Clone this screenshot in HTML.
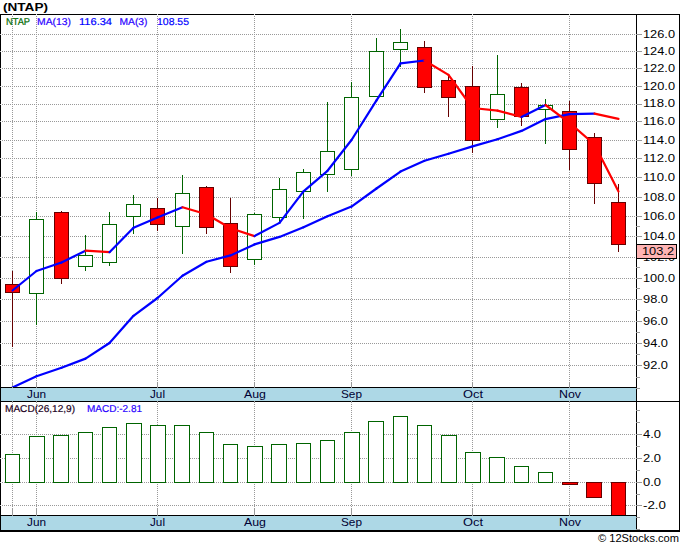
<!DOCTYPE html><html><head><meta charset="utf-8"><style>html,body{margin:0;padding:0;background:#fff;width:680px;height:546px;overflow:hidden}svg{display:block}text{font-family:"Liberation Sans",sans-serif}</style></head><body>
<svg width="680" height="546" viewBox="0 0 680 546">
<rect x="0" y="0" width="680" height="546" fill="#fff"/>
<g stroke="#999999" stroke-width="1" stroke-dasharray="1 1" shape-rendering="crispEdges">
<line x1="0" y1="34.5" x2="636" y2="34.5"/>
<line x1="0" y1="51.5" x2="636" y2="51.5"/>
<line x1="0" y1="68.5" x2="636" y2="68.5"/>
<line x1="0" y1="86.5" x2="636" y2="86.5"/>
<line x1="0" y1="104.5" x2="636" y2="104.5"/>
<line x1="0" y1="121.5" x2="636" y2="121.5"/>
<line x1="0" y1="140.5" x2="636" y2="140.5"/>
<line x1="0" y1="158.5" x2="636" y2="158.5"/>
<line x1="0" y1="177.5" x2="636" y2="177.5"/>
<line x1="0" y1="197.5" x2="636" y2="197.5"/>
<line x1="0" y1="216.5" x2="636" y2="216.5"/>
<line x1="0" y1="236.5" x2="636" y2="236.5"/>
<line x1="0" y1="257.5" x2="636" y2="257.5"/>
<line x1="0" y1="278.5" x2="636" y2="278.5"/>
<line x1="0" y1="299.5" x2="636" y2="299.5"/>
<line x1="0" y1="321.5" x2="636" y2="321.5"/>
<line x1="0" y1="343.5" x2="636" y2="343.5"/>
<line x1="0" y1="365.5" x2="636" y2="365.5"/>
<line x1="12.5" y1="14" x2="12.5" y2="382"/>
<line x1="36.5" y1="14" x2="36.5" y2="382"/>
<line x1="157.5" y1="14" x2="157.5" y2="382"/>
<line x1="254.5" y1="14" x2="254.5" y2="382"/>
<line x1="351.5" y1="14" x2="351.5" y2="382"/>
<line x1="472.5" y1="14" x2="472.5" y2="382"/>
<line x1="569.5" y1="14" x2="569.5" y2="382"/>
<line x1="0" y1="434.5" x2="636" y2="434.5"/>
<line x1="0" y1="458.5" x2="636" y2="458.5"/>
<line x1="0" y1="482.5" x2="636" y2="482.5"/>
<line x1="0" y1="505.5" x2="636" y2="505.5"/>
<line x1="12.5" y1="402" x2="12.5" y2="509"/>
<line x1="36.5" y1="402" x2="36.5" y2="509"/>
<line x1="157.5" y1="402" x2="157.5" y2="509"/>
<line x1="254.5" y1="402" x2="254.5" y2="509"/>
<line x1="351.5" y1="402" x2="351.5" y2="509"/>
<line x1="472.5" y1="402" x2="472.5" y2="509"/>
<line x1="569.5" y1="402" x2="569.5" y2="509"/>
</g>
<g stroke="#999999" stroke-width="1" shape-rendering="crispEdges">
<line x1="12.5" y1="382" x2="12.5" y2="387"/>
<line x1="12.5" y1="509" x2="12.5" y2="515"/>
<line x1="36.5" y1="382" x2="36.5" y2="387"/>
<line x1="36.5" y1="509" x2="36.5" y2="515"/>
<line x1="157.5" y1="382" x2="157.5" y2="387"/>
<line x1="157.5" y1="509" x2="157.5" y2="515"/>
<line x1="254.5" y1="382" x2="254.5" y2="387"/>
<line x1="254.5" y1="509" x2="254.5" y2="515"/>
<line x1="351.5" y1="382" x2="351.5" y2="387"/>
<line x1="351.5" y1="509" x2="351.5" y2="515"/>
<line x1="472.5" y1="382" x2="472.5" y2="387"/>
<line x1="472.5" y1="509" x2="472.5" y2="515"/>
<line x1="569.5" y1="382" x2="569.5" y2="387"/>
<line x1="569.5" y1="509" x2="569.5" y2="515"/>
</g>
<g shape-rendering="crispEdges">
<line x1="12.5" y1="271" x2="12.5" y2="347" stroke="#660000" stroke-width="1"/>
<rect x="5.5" y="284.5" width="14" height="8" fill="#ff0000" stroke="#660000" stroke-width="1"/>
<line x1="36.5" y1="212" x2="36.5" y2="325" stroke="#006400" stroke-width="1"/>
<rect x="29.5" y="219.5" width="14" height="74" fill="#ffffff" stroke="#006400" stroke-width="1"/>
<line x1="61.5" y1="211" x2="61.5" y2="284" stroke="#660000" stroke-width="1"/>
<rect x="54.5" y="212.5" width="14" height="66" fill="#ff0000" stroke="#660000" stroke-width="1"/>
<line x1="85.5" y1="235" x2="85.5" y2="271" stroke="#006400" stroke-width="1"/>
<rect x="78.5" y="255.5" width="14" height="11" fill="#ffffff" stroke="#006400" stroke-width="1"/>
<line x1="109.5" y1="212" x2="109.5" y2="266" stroke="#006400" stroke-width="1"/>
<rect x="102.5" y="224.5" width="14" height="38" fill="#ffffff" stroke="#006400" stroke-width="1"/>
<line x1="133.5" y1="195" x2="133.5" y2="234" stroke="#006400" stroke-width="1"/>
<rect x="126.5" y="204.5" width="14" height="12" fill="#ffffff" stroke="#006400" stroke-width="1"/>
<line x1="157.5" y1="198" x2="157.5" y2="231" stroke="#660000" stroke-width="1"/>
<rect x="150.5" y="208.5" width="14" height="16" fill="#ff0000" stroke="#660000" stroke-width="1"/>
<line x1="182.5" y1="175" x2="182.5" y2="254" stroke="#006400" stroke-width="1"/>
<rect x="175.5" y="193.5" width="14" height="33" fill="#ffffff" stroke="#006400" stroke-width="1"/>
<line x1="206.5" y1="186" x2="206.5" y2="234" stroke="#660000" stroke-width="1"/>
<rect x="199.5" y="187.5" width="14" height="40" fill="#ff0000" stroke="#660000" stroke-width="1"/>
<line x1="230.5" y1="198" x2="230.5" y2="273" stroke="#660000" stroke-width="1"/>
<rect x="223.5" y="223.5" width="14" height="43" fill="#ff0000" stroke="#660000" stroke-width="1"/>
<line x1="254.5" y1="213" x2="254.5" y2="265" stroke="#006400" stroke-width="1"/>
<rect x="247.5" y="214.5" width="14" height="45" fill="#ffffff" stroke="#006400" stroke-width="1"/>
<line x1="279.5" y1="178" x2="279.5" y2="223" stroke="#006400" stroke-width="1"/>
<rect x="272.5" y="189.5" width="14" height="28" fill="#ffffff" stroke="#006400" stroke-width="1"/>
<line x1="303.5" y1="169" x2="303.5" y2="219" stroke="#006400" stroke-width="1"/>
<rect x="296.5" y="172.5" width="14" height="19" fill="#ffffff" stroke="#006400" stroke-width="1"/>
<line x1="327.5" y1="102" x2="327.5" y2="192" stroke="#006400" stroke-width="1"/>
<rect x="320.5" y="151.5" width="14" height="23" fill="#ffffff" stroke="#006400" stroke-width="1"/>
<line x1="351.5" y1="82" x2="351.5" y2="176" stroke="#006400" stroke-width="1"/>
<rect x="344.5" y="97.5" width="14" height="72" fill="#ffffff" stroke="#006400" stroke-width="1"/>
<line x1="376.5" y1="38" x2="376.5" y2="97" stroke="#006400" stroke-width="1"/>
<rect x="369.5" y="51.5" width="14" height="45" fill="#ffffff" stroke="#006400" stroke-width="1"/>
<line x1="400.5" y1="29" x2="400.5" y2="67" stroke="#006400" stroke-width="1"/>
<rect x="393.5" y="42.5" width="14" height="7" fill="#ffffff" stroke="#006400" stroke-width="1"/>
<line x1="424.5" y1="41" x2="424.5" y2="93" stroke="#660000" stroke-width="1"/>
<rect x="417.5" y="47.5" width="14" height="40" fill="#ff0000" stroke="#660000" stroke-width="1"/>
<line x1="448.5" y1="75" x2="448.5" y2="117" stroke="#660000" stroke-width="1"/>
<rect x="441.5" y="80.5" width="14" height="17" fill="#ff0000" stroke="#660000" stroke-width="1"/>
<line x1="472.5" y1="66" x2="472.5" y2="153" stroke="#660000" stroke-width="1"/>
<rect x="465.5" y="86.5" width="14" height="54" fill="#ff0000" stroke="#660000" stroke-width="1"/>
<line x1="497.5" y1="55" x2="497.5" y2="128" stroke="#006400" stroke-width="1"/>
<rect x="490.5" y="94.5" width="14" height="25" fill="#ffffff" stroke="#006400" stroke-width="1"/>
<line x1="521.5" y1="83" x2="521.5" y2="126" stroke="#660000" stroke-width="1"/>
<rect x="514.5" y="87.5" width="14" height="29" fill="#ff0000" stroke="#660000" stroke-width="1"/>
<line x1="545.5" y1="99" x2="545.5" y2="144" stroke="#006400" stroke-width="1"/>
<rect x="538.5" y="105.5" width="14" height="4" fill="#ffffff" stroke="#006400" stroke-width="1"/>
<line x1="569.5" y1="101" x2="569.5" y2="170" stroke="#660000" stroke-width="1"/>
<rect x="562.5" y="111.5" width="14" height="38" fill="#ff0000" stroke="#660000" stroke-width="1"/>
<line x1="594.5" y1="133" x2="594.5" y2="204" stroke="#660000" stroke-width="1"/>
<rect x="587.5" y="137.5" width="14" height="46" fill="#ff0000" stroke="#660000" stroke-width="1"/>
<line x1="618.5" y1="184" x2="618.5" y2="252" stroke="#660000" stroke-width="1"/>
<rect x="611.5" y="202.5" width="14" height="42" fill="#ff0000" stroke="#660000" stroke-width="1"/>
</g>
<svg x="0" y="14" width="636" height="373" viewBox="0 14 636 373" overflow="hidden">
<line x1="12.5" y1="387.5" x2="36.5" y2="376.2" stroke="#0000ff" stroke-width="2.2" stroke-linecap="round"/>
<line x1="36.5" y1="376.2" x2="61.5" y2="367.8" stroke="#0000ff" stroke-width="2.2" stroke-linecap="round"/>
<line x1="61.5" y1="367.8" x2="85.5" y2="358.6" stroke="#0000ff" stroke-width="2.2" stroke-linecap="round"/>
<line x1="85.5" y1="358.6" x2="109.5" y2="343" stroke="#0000ff" stroke-width="2.2" stroke-linecap="round"/>
<line x1="109.5" y1="343" x2="133.5" y2="315.8" stroke="#0000ff" stroke-width="2.2" stroke-linecap="round"/>
<line x1="133.5" y1="315.8" x2="157.5" y2="298" stroke="#0000ff" stroke-width="2.2" stroke-linecap="round"/>
<line x1="157.5" y1="298" x2="182.5" y2="275.7" stroke="#0000ff" stroke-width="2.2" stroke-linecap="round"/>
<line x1="182.5" y1="275.7" x2="206.5" y2="261.8" stroke="#0000ff" stroke-width="2.2" stroke-linecap="round"/>
<line x1="206.5" y1="261.8" x2="230.5" y2="255.4" stroke="#0000ff" stroke-width="2.2" stroke-linecap="round"/>
<line x1="230.5" y1="255.4" x2="254.5" y2="244.4" stroke="#0000ff" stroke-width="2.2" stroke-linecap="round"/>
<line x1="254.5" y1="244.4" x2="279.5" y2="236.9" stroke="#0000ff" stroke-width="2.2" stroke-linecap="round"/>
<line x1="279.5" y1="236.9" x2="303.5" y2="227.3" stroke="#0000ff" stroke-width="2.2" stroke-linecap="round"/>
<line x1="303.5" y1="227.3" x2="327.5" y2="216.2" stroke="#0000ff" stroke-width="2.2" stroke-linecap="round"/>
<line x1="327.5" y1="216.2" x2="351.5" y2="206.6" stroke="#0000ff" stroke-width="2.2" stroke-linecap="round"/>
<line x1="351.5" y1="206.6" x2="376.5" y2="188.5" stroke="#0000ff" stroke-width="2.2" stroke-linecap="round"/>
<line x1="376.5" y1="188.5" x2="400.5" y2="171.6" stroke="#0000ff" stroke-width="2.2" stroke-linecap="round"/>
<line x1="400.5" y1="171.6" x2="424.5" y2="160.8" stroke="#0000ff" stroke-width="2.2" stroke-linecap="round"/>
<line x1="424.5" y1="160.8" x2="448.5" y2="153.8" stroke="#0000ff" stroke-width="2.2" stroke-linecap="round"/>
<line x1="448.5" y1="153.8" x2="472.5" y2="146.4" stroke="#0000ff" stroke-width="2.2" stroke-linecap="round"/>
<line x1="472.5" y1="146.4" x2="497.5" y2="139.2" stroke="#0000ff" stroke-width="2.2" stroke-linecap="round"/>
<line x1="497.5" y1="139.2" x2="521.5" y2="130.9" stroke="#0000ff" stroke-width="2.2" stroke-linecap="round"/>
<line x1="521.5" y1="130.9" x2="545.5" y2="119.1" stroke="#0000ff" stroke-width="2.2" stroke-linecap="round"/>
<line x1="545.5" y1="119.1" x2="569.5" y2="114.1" stroke="#0000ff" stroke-width="2.2" stroke-linecap="round"/>
<line x1="569.5" y1="114.1" x2="594.5" y2="113.7" stroke="#0000ff" stroke-width="2.2" stroke-linecap="round"/>
<line x1="594.5" y1="113.7" x2="618.5" y2="118.8" stroke="#ff0000" stroke-width="2.2" stroke-linecap="round"/>
<line x1="12.5" y1="290.5" x2="36.5" y2="271" stroke="#0000ff" stroke-width="2.2" stroke-linecap="round"/>
<line x1="36.5" y1="271" x2="61.5" y2="262.5" stroke="#0000ff" stroke-width="2.2" stroke-linecap="round"/>
<line x1="61.5" y1="262.5" x2="85.5" y2="250.7" stroke="#0000ff" stroke-width="2.2" stroke-linecap="round"/>
<line x1="85.5" y1="250.7" x2="109.5" y2="252.2" stroke="#ff0000" stroke-width="2.2" stroke-linecap="round"/>
<line x1="109.5" y1="252.2" x2="133.5" y2="227.7" stroke="#0000ff" stroke-width="2.2" stroke-linecap="round"/>
<line x1="133.5" y1="227.7" x2="157.5" y2="217.5" stroke="#0000ff" stroke-width="2.2" stroke-linecap="round"/>
<line x1="157.5" y1="217.5" x2="182.5" y2="207.3" stroke="#0000ff" stroke-width="2.2" stroke-linecap="round"/>
<line x1="182.5" y1="207.3" x2="206.5" y2="214.2" stroke="#ff0000" stroke-width="2.2" stroke-linecap="round"/>
<line x1="206.5" y1="214.2" x2="230.5" y2="228.2" stroke="#ff0000" stroke-width="2.2" stroke-linecap="round"/>
<line x1="230.5" y1="228.2" x2="254.5" y2="236.1" stroke="#ff0000" stroke-width="2.2" stroke-linecap="round"/>
<line x1="254.5" y1="236.1" x2="279.5" y2="222.9" stroke="#0000ff" stroke-width="2.2" stroke-linecap="round"/>
<line x1="279.5" y1="222.9" x2="303.5" y2="191.4" stroke="#0000ff" stroke-width="2.2" stroke-linecap="round"/>
<line x1="303.5" y1="191.4" x2="327.5" y2="170.8" stroke="#0000ff" stroke-width="2.2" stroke-linecap="round"/>
<line x1="327.5" y1="170.8" x2="351.5" y2="140" stroke="#0000ff" stroke-width="2.2" stroke-linecap="round"/>
<line x1="351.5" y1="140" x2="376.5" y2="100.3" stroke="#0000ff" stroke-width="2.2" stroke-linecap="round"/>
<line x1="376.5" y1="100.3" x2="400.5" y2="63.3" stroke="#0000ff" stroke-width="2.2" stroke-linecap="round"/>
<line x1="400.5" y1="63.3" x2="424.5" y2="60.5" stroke="#0000ff" stroke-width="2.2" stroke-linecap="round"/>
<line x1="424.5" y1="60.5" x2="448.5" y2="74.9" stroke="#ff0000" stroke-width="2.2" stroke-linecap="round"/>
<line x1="448.5" y1="74.9" x2="472.5" y2="108" stroke="#ff0000" stroke-width="2.2" stroke-linecap="round"/>
<line x1="472.5" y1="108" x2="497.5" y2="110.6" stroke="#ff0000" stroke-width="2.2" stroke-linecap="round"/>
<line x1="497.5" y1="110.6" x2="521.5" y2="116.9" stroke="#ff0000" stroke-width="2.2" stroke-linecap="round"/>
<line x1="521.5" y1="116.9" x2="545.5" y2="105" stroke="#0000ff" stroke-width="2.2" stroke-linecap="round"/>
<line x1="545.5" y1="105" x2="569.5" y2="122.8" stroke="#ff0000" stroke-width="2.2" stroke-linecap="round"/>
<line x1="569.5" y1="122.8" x2="594.5" y2="144.5" stroke="#ff0000" stroke-width="2.2" stroke-linecap="round"/>
<line x1="594.5" y1="144.5" x2="618.5" y2="191.5" stroke="#ff0000" stroke-width="2.2" stroke-linecap="round"/>
</svg>
<g shape-rendering="crispEdges">
<rect x="5.5" y="454.5" width="14" height="28" fill="#fff" stroke="#006400" stroke-width="1"/>
<rect x="29.5" y="436.5" width="15" height="46" fill="#fff" stroke="#006400" stroke-width="1"/>
<rect x="53.5" y="435.5" width="15" height="47" fill="#fff" stroke="#006400" stroke-width="1"/>
<rect x="78.5" y="432.5" width="14" height="50" fill="#fff" stroke="#006400" stroke-width="1"/>
<rect x="102.5" y="427.5" width="14" height="55" fill="#fff" stroke="#006400" stroke-width="1"/>
<rect x="126.5" y="423.5" width="15" height="59" fill="#fff" stroke="#006400" stroke-width="1"/>
<rect x="150.5" y="425.5" width="15" height="57" fill="#fff" stroke="#006400" stroke-width="1"/>
<rect x="174.5" y="425.5" width="15" height="57" fill="#fff" stroke="#006400" stroke-width="1"/>
<rect x="199.5" y="432.5" width="14" height="50" fill="#fff" stroke="#006400" stroke-width="1"/>
<rect x="223.5" y="444.5" width="14" height="38" fill="#fff" stroke="#006400" stroke-width="1"/>
<rect x="247.5" y="446.5" width="15" height="36" fill="#fff" stroke="#006400" stroke-width="1"/>
<rect x="271.5" y="444.5" width="15" height="38" fill="#fff" stroke="#006400" stroke-width="1"/>
<rect x="296.5" y="443.5" width="14" height="39" fill="#fff" stroke="#006400" stroke-width="1"/>
<rect x="320.5" y="440.5" width="14" height="42" fill="#fff" stroke="#006400" stroke-width="1"/>
<rect x="344.5" y="432.5" width="15" height="50" fill="#fff" stroke="#006400" stroke-width="1"/>
<rect x="368.5" y="421.5" width="15" height="61" fill="#fff" stroke="#006400" stroke-width="1"/>
<rect x="393.5" y="416.5" width="14" height="66" fill="#fff" stroke="#006400" stroke-width="1"/>
<rect x="417.5" y="425.5" width="14" height="57" fill="#fff" stroke="#006400" stroke-width="1"/>
<rect x="441.5" y="435.5" width="15" height="47" fill="#fff" stroke="#006400" stroke-width="1"/>
<rect x="465.5" y="452.5" width="15" height="30" fill="#fff" stroke="#006400" stroke-width="1"/>
<rect x="489.5" y="457.5" width="15" height="25" fill="#fff" stroke="#006400" stroke-width="1"/>
<rect x="514.5" y="466.5" width="14" height="16" fill="#fff" stroke="#006400" stroke-width="1"/>
<rect x="538.5" y="472.5" width="14" height="10" fill="#fff" stroke="#006400" stroke-width="1"/>
<rect x="562.5" y="482.5" width="15" height="2" fill="#ff0000" stroke="#660000" stroke-width="1"/>
<rect x="586.5" y="482.5" width="15" height="15" fill="#ff0000" stroke="#660000" stroke-width="1"/>
<rect x="611.5" y="482.5" width="14" height="33" fill="#ff0000" stroke="#660000" stroke-width="1"/>
</g>
<g shape-rendering="crispEdges">
<rect x="1" y="388" width="635" height="13" fill="#ADD8E6"/>
<rect x="1" y="516" width="635" height="14" fill="#ADD8E6"/>
<g stroke="#000" stroke-width="1">
<line x1="0" y1="14.5" x2="680" y2="14.5"/>
<line x1="0.5" y1="14" x2="0.5" y2="532"/>
<line x1="679.5" y1="14" x2="679.5" y2="532"/>
<line x1="636.5" y1="14" x2="636.5" y2="532"/>
<line x1="0" y1="387.5" x2="637" y2="387.5"/>
<line x1="0" y1="401.5" x2="680" y2="401.5"/>
<line x1="0" y1="515.5" x2="637" y2="515.5"/>
</g>
<rect x="0" y="530" width="680" height="2" fill="#000"/>
<rect x="12" y="14" width="1" height="1" fill="#d8d8d8"/>
<rect x="12" y="387" width="1" height="1" fill="#999999"/>
<rect x="12" y="401" width="1" height="1" fill="#999999"/>
<rect x="12" y="515" width="1" height="1" fill="#999999"/>
<rect x="36" y="14" width="1" height="1" fill="#d8d8d8"/>
<rect x="36" y="387" width="1" height="1" fill="#999999"/>
<rect x="36" y="401" width="1" height="1" fill="#999999"/>
<rect x="36" y="515" width="1" height="1" fill="#999999"/>
<rect x="157" y="14" width="1" height="1" fill="#d8d8d8"/>
<rect x="157" y="387" width="1" height="1" fill="#999999"/>
<rect x="157" y="401" width="1" height="1" fill="#999999"/>
<rect x="157" y="515" width="1" height="1" fill="#999999"/>
<rect x="254" y="14" width="1" height="1" fill="#d8d8d8"/>
<rect x="254" y="387" width="1" height="1" fill="#999999"/>
<rect x="254" y="401" width="1" height="1" fill="#999999"/>
<rect x="254" y="515" width="1" height="1" fill="#999999"/>
<rect x="351" y="14" width="1" height="1" fill="#d8d8d8"/>
<rect x="351" y="387" width="1" height="1" fill="#999999"/>
<rect x="351" y="401" width="1" height="1" fill="#999999"/>
<rect x="351" y="515" width="1" height="1" fill="#999999"/>
<rect x="472" y="14" width="1" height="1" fill="#d8d8d8"/>
<rect x="472" y="387" width="1" height="1" fill="#999999"/>
<rect x="472" y="401" width="1" height="1" fill="#999999"/>
<rect x="472" y="515" width="1" height="1" fill="#999999"/>
<rect x="569" y="14" width="1" height="1" fill="#d8d8d8"/>
<rect x="569" y="387" width="1" height="1" fill="#999999"/>
<rect x="569" y="401" width="1" height="1" fill="#999999"/>
<rect x="569" y="515" width="1" height="1" fill="#999999"/>
<rect x="0" y="34" width="1" height="1" fill="#c8c8c8"/>
<rect x="0" y="51" width="1" height="1" fill="#c8c8c8"/>
<rect x="0" y="68" width="1" height="1" fill="#c8c8c8"/>
<rect x="0" y="86" width="1" height="1" fill="#c8c8c8"/>
<rect x="0" y="104" width="1" height="1" fill="#c8c8c8"/>
<rect x="0" y="121" width="1" height="1" fill="#c8c8c8"/>
<rect x="0" y="140" width="1" height="1" fill="#c8c8c8"/>
<rect x="0" y="158" width="1" height="1" fill="#c8c8c8"/>
<rect x="0" y="177" width="1" height="1" fill="#c8c8c8"/>
<rect x="0" y="197" width="1" height="1" fill="#c8c8c8"/>
<rect x="0" y="216" width="1" height="1" fill="#c8c8c8"/>
<rect x="0" y="236" width="1" height="1" fill="#c8c8c8"/>
<rect x="0" y="257" width="1" height="1" fill="#c8c8c8"/>
<rect x="0" y="278" width="1" height="1" fill="#c8c8c8"/>
<rect x="0" y="299" width="1" height="1" fill="#c8c8c8"/>
<rect x="0" y="321" width="1" height="1" fill="#c8c8c8"/>
<rect x="0" y="343" width="1" height="1" fill="#c8c8c8"/>
<rect x="0" y="365" width="1" height="1" fill="#c8c8c8"/>
<rect x="0" y="434" width="1" height="1" fill="#c8c8c8"/>
<rect x="0" y="458" width="1" height="1" fill="#c8c8c8"/>
<rect x="0" y="482" width="1" height="1" fill="#c8c8c8"/>
<rect x="0" y="505" width="1" height="1" fill="#c8c8c8"/>
<g stroke="#999999" stroke-width="1" shape-rendering="crispEdges">
<line x1="636" y1="388.5" x2="640" y2="388.5"/>
<line x1="636" y1="377.5" x2="640" y2="377.5"/>
<line x1="636" y1="365.5" x2="642" y2="365.5"/>
<line x1="636" y1="354.5" x2="640" y2="354.5"/>
<line x1="636" y1="343.5" x2="642" y2="343.5"/>
<line x1="636" y1="332.5" x2="640" y2="332.5"/>
<line x1="636" y1="321.5" x2="642" y2="321.5"/>
<line x1="636" y1="310.5" x2="640" y2="310.5"/>
<line x1="636" y1="299.5" x2="642" y2="299.5"/>
<line x1="636" y1="288.5" x2="640" y2="288.5"/>
<line x1="636" y1="278.5" x2="642" y2="278.5"/>
<line x1="636" y1="267.5" x2="640" y2="267.5"/>
<line x1="636" y1="257.5" x2="642" y2="257.5"/>
<line x1="636" y1="246.5" x2="640" y2="246.5"/>
<line x1="636" y1="236.5" x2="642" y2="236.5"/>
<line x1="636" y1="226.5" x2="640" y2="226.5"/>
<line x1="636" y1="216.5" x2="642" y2="216.5"/>
<line x1="636" y1="197.5" x2="642" y2="197.5"/>
<line x1="636" y1="177.5" x2="642" y2="177.5"/>
<line x1="636" y1="158.5" x2="642" y2="158.5"/>
<line x1="636" y1="140.5" x2="642" y2="140.5"/>
<line x1="636" y1="121.5" x2="642" y2="121.5"/>
<line x1="636" y1="104.5" x2="642" y2="104.5"/>
<line x1="636" y1="86.5" x2="642" y2="86.5"/>
<line x1="636" y1="68.5" x2="642" y2="68.5"/>
<line x1="636" y1="51.5" x2="642" y2="51.5"/>
<line x1="636" y1="34.5" x2="642" y2="34.5"/>
<line x1="636" y1="410.5" x2="640" y2="410.5"/>
<line x1="636" y1="422.5" x2="640" y2="422.5"/>
<line x1="636" y1="434.5" x2="642" y2="434.5"/>
<line x1="636" y1="446.5" x2="640" y2="446.5"/>
<line x1="636" y1="458.5" x2="642" y2="458.5"/>
<line x1="636" y1="470.5" x2="640" y2="470.5"/>
<line x1="636" y1="482.5" x2="642" y2="482.5"/>
<line x1="636" y1="494.5" x2="640" y2="494.5"/>
<line x1="636" y1="505.5" x2="642" y2="505.5"/>
<line x1="636" y1="517.5" x2="640" y2="517.5"/>
<line x1="636" y1="529.5" x2="640" y2="529.5"/>
</g>
</g>
<rect x="636.5" y="244.5" width="40" height="14" fill="#ffb4b4" stroke="#000" stroke-width="1" shape-rendering="crispEdges"/>
<text x="643" y="38" font-size="11" fill="#000" font-weight="normal" text-anchor="start" textLength="32" lengthAdjust="spacingAndGlyphs">126.0</text>
<text x="643" y="55" font-size="11" fill="#000" font-weight="normal" text-anchor="start" textLength="32" lengthAdjust="spacingAndGlyphs">124.0</text>
<text x="643" y="72" font-size="11" fill="#000" font-weight="normal" text-anchor="start" textLength="32" lengthAdjust="spacingAndGlyphs">122.0</text>
<text x="643" y="90" font-size="11" fill="#000" font-weight="normal" text-anchor="start" textLength="32" lengthAdjust="spacingAndGlyphs">120.0</text>
<text x="643" y="107" font-size="11" fill="#000" font-weight="normal" text-anchor="start" textLength="32" lengthAdjust="spacingAndGlyphs">118.0</text>
<text x="643" y="125" font-size="11" fill="#000" font-weight="normal" text-anchor="start" textLength="32" lengthAdjust="spacingAndGlyphs">116.0</text>
<text x="643" y="144" font-size="11" fill="#000" font-weight="normal" text-anchor="start" textLength="32" lengthAdjust="spacingAndGlyphs">114.0</text>
<text x="643" y="162" font-size="11" fill="#000" font-weight="normal" text-anchor="start" textLength="32" lengthAdjust="spacingAndGlyphs">112.0</text>
<text x="643" y="181" font-size="11" fill="#000" font-weight="normal" text-anchor="start" textLength="32" lengthAdjust="spacingAndGlyphs">110.0</text>
<text x="643" y="201" font-size="11" fill="#000" font-weight="normal" text-anchor="start" textLength="32" lengthAdjust="spacingAndGlyphs">108.0</text>
<text x="643" y="220" font-size="11" fill="#000" font-weight="normal" text-anchor="start" textLength="32" lengthAdjust="spacingAndGlyphs">106.0</text>
<text x="643" y="240" font-size="11" fill="#000" font-weight="normal" text-anchor="start" textLength="32" lengthAdjust="spacingAndGlyphs">104.0</text>
<text x="643" y="261" font-size="11" fill="#000" font-weight="normal" text-anchor="start" textLength="32" lengthAdjust="spacingAndGlyphs">102.0</text>
<text x="643" y="282" font-size="11" fill="#000" font-weight="normal" text-anchor="start" textLength="32" lengthAdjust="spacingAndGlyphs">100.0</text>
<text x="643" y="303" font-size="11" fill="#000" font-weight="normal" text-anchor="start" textLength="25" lengthAdjust="spacingAndGlyphs">98.0</text>
<text x="643" y="325" font-size="11" fill="#000" font-weight="normal" text-anchor="start" textLength="25" lengthAdjust="spacingAndGlyphs">96.0</text>
<text x="643" y="347" font-size="11" fill="#000" font-weight="normal" text-anchor="start" textLength="25" lengthAdjust="spacingAndGlyphs">94.0</text>
<text x="643" y="369" font-size="11" fill="#000" font-weight="normal" text-anchor="start" textLength="25" lengthAdjust="spacingAndGlyphs">92.0</text>
<rect x="637" y="245" width="39" height="13" fill="#ffb4b4"/>
<text x="642" y="255" font-size="11" fill="#000" font-weight="normal" text-anchor="start" textLength="32" lengthAdjust="spacingAndGlyphs">103.2</text>
<text x="643" y="438" font-size="11" fill="#000" font-weight="normal" text-anchor="start" textLength="18" lengthAdjust="spacingAndGlyphs">4.0</text>
<text x="643" y="462" font-size="11" fill="#000" font-weight="normal" text-anchor="start" textLength="18" lengthAdjust="spacingAndGlyphs">2.0</text>
<text x="643" y="486" font-size="11" fill="#000" font-weight="normal" text-anchor="start" textLength="18" lengthAdjust="spacingAndGlyphs">0.0</text>
<text x="643" y="509" font-size="11" fill="#000" font-weight="normal" text-anchor="start" textLength="23" lengthAdjust="spacingAndGlyphs">-2.0</text>
<text x="3" y="11" font-size="10" fill="#000" font-weight="bold" text-anchor="start" textLength="45" lengthAdjust="spacingAndGlyphs">(NTAP)</text>
<text x="6" y="25" font-size="10" fill="#006a00" font-weight="normal" text-anchor="start" textLength="24" lengthAdjust="spacingAndGlyphs" text-rendering="geometricPrecision" stroke="#006a00" stroke-width="0.2">NTAP</text>
<text x="37" y="25" font-size="10" fill="#2a00ff" font-weight="normal" text-anchor="start" textLength="34" lengthAdjust="spacingAndGlyphs" text-rendering="geometricPrecision" stroke="#2a00ff" stroke-width="0.2">MA(13)</text>
<text x="79" y="25" font-size="10" fill="#0000ff" font-weight="normal" text-anchor="start" textLength="33" lengthAdjust="spacingAndGlyphs" text-rendering="geometricPrecision" stroke="#0000ff" stroke-width="0.2">116.34</text>
<text x="119.5" y="25" font-size="10" fill="#2a00ff" font-weight="normal" text-anchor="start" textLength="28" lengthAdjust="spacingAndGlyphs" text-rendering="geometricPrecision" stroke="#2a00ff" stroke-width="0.2">MA(3)</text>
<text x="157" y="25" font-size="10" fill="#0000ff" font-weight="normal" text-anchor="start" textLength="32" lengthAdjust="spacingAndGlyphs" text-rendering="geometricPrecision" stroke="#0000ff" stroke-width="0.2">108.55</text>
<text x="5" y="412" font-size="10" fill="#220022" font-weight="normal" text-anchor="start" textLength="70" lengthAdjust="spacingAndGlyphs" text-rendering="geometricPrecision" stroke="#220022" stroke-width="0.2">MACD(26,12,9)</text>
<text x="87" y="412" font-size="10" fill="#2a00ff" font-weight="normal" text-anchor="start" textLength="55" lengthAdjust="spacingAndGlyphs" text-rendering="geometricPrecision" stroke="#2a00ff" stroke-width="0.2">MACD:-2.81</text>
<text x="27" y="398" font-size="11" fill="#000033" font-weight="normal" text-anchor="start" textLength="19" lengthAdjust="spacingAndGlyphs">Jun</text>
<text x="27" y="526" font-size="11" fill="#000033" font-weight="normal" text-anchor="start" textLength="19" lengthAdjust="spacingAndGlyphs">Jun</text>
<text x="150" y="398" font-size="11" fill="#000033" font-weight="normal" text-anchor="start" textLength="15" lengthAdjust="spacingAndGlyphs">Jul</text>
<text x="150" y="526" font-size="11" fill="#000033" font-weight="normal" text-anchor="start" textLength="15" lengthAdjust="spacingAndGlyphs">Jul</text>
<text x="244" y="398" font-size="11" fill="#000033" font-weight="normal" text-anchor="start" textLength="22" lengthAdjust="spacingAndGlyphs">Aug</text>
<text x="244" y="526" font-size="11" fill="#000033" font-weight="normal" text-anchor="start" textLength="22" lengthAdjust="spacingAndGlyphs">Aug</text>
<text x="341" y="398" font-size="11" fill="#000033" font-weight="normal" text-anchor="start" textLength="21" lengthAdjust="spacingAndGlyphs">Sep</text>
<text x="341" y="526" font-size="11" fill="#000033" font-weight="normal" text-anchor="start" textLength="21" lengthAdjust="spacingAndGlyphs">Sep</text>
<text x="463" y="398" font-size="11" fill="#000033" font-weight="normal" text-anchor="start" textLength="20" lengthAdjust="spacingAndGlyphs">Oct</text>
<text x="463" y="526" font-size="11" fill="#000033" font-weight="normal" text-anchor="start" textLength="20" lengthAdjust="spacingAndGlyphs">Oct</text>
<text x="559" y="398" font-size="11" fill="#000033" font-weight="normal" text-anchor="start" textLength="22" lengthAdjust="spacingAndGlyphs">Nov</text>
<text x="559" y="526" font-size="11" fill="#000033" font-weight="normal" text-anchor="start" textLength="22" lengthAdjust="spacingAndGlyphs">Nov</text>
<text x="598" y="542" font-size="11" fill="#000" font-weight="normal" text-anchor="start" textLength="81" lengthAdjust="spacingAndGlyphs">© 12Stocks.com</text>
</svg></body></html>
